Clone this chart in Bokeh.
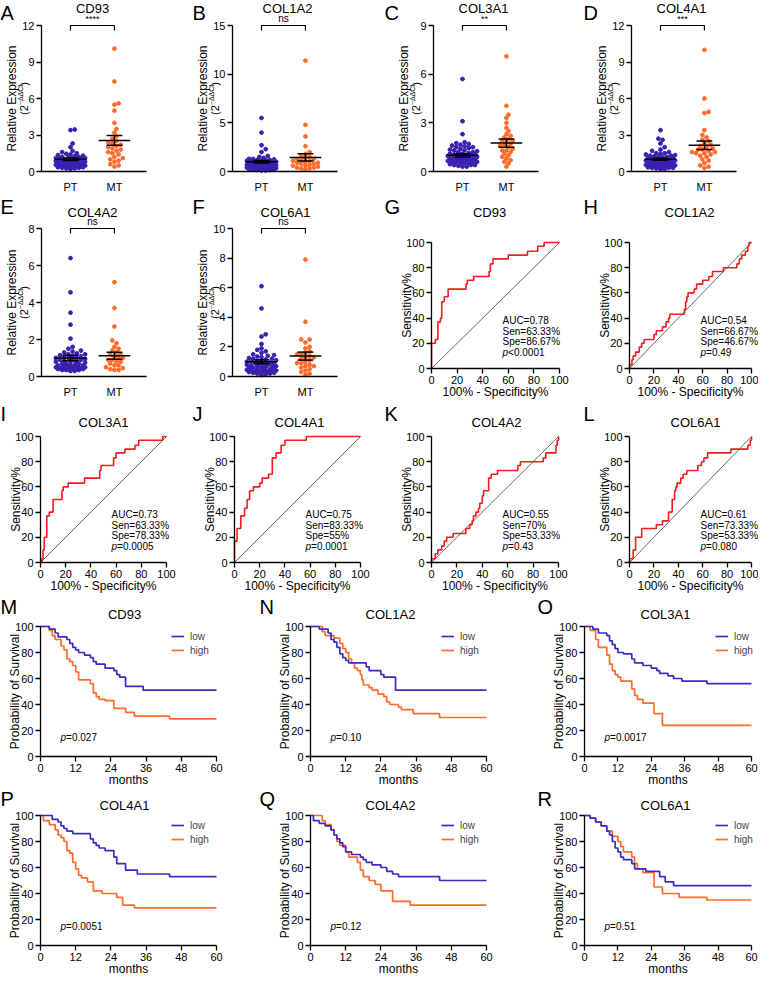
import numpy as np
from bokeh.plotting import figure
from bokeh.layouts import column, row
from bokeh.models import Label, FixedTicker, Legend, LegendItem, Range1d
from bokeh.embed import file_html
from bokeh.resources import INLINE

FONT = "Liberation Sans"
PT_COLOR = "#3b20b0"
MT_COLOR = "#ff6c2c"
LOW_COLOR = "#3a2cc2"
HIGH_COLOR = "#ff6c2c"
ROC_COLOR = "#f41c1c"

# ---------------- expression (PT vs MT) ----------------
groups = ["PT", "MT"]
expr_genes = ["CD93", "COL1A2", "COL3A1", "COL4A1", "COL4A2", "COL6A1"]
expr_letters = ["A", "B", "C", "D", "E", "F"]
expr_ymax = [12, 15, 9, 12, 8, 10]
expr_ystep = [3, 5, 3, 3, 2, 2]
expr_sig = ["****", "ns", "**", "***", "ns", "ns"]

cd93_pt = [3.45, 3.4, 2.3, 2.0, 1.7, 1.6, 1.5, 1.45, 1.4, 1.35, 1.3, 1.25, 1.2, 1.2, 1.15, 1.1, 1.1, 1.05, 1.05, 1.0,
           1.0, 1.0, 0.95, 0.95, 0.9, 0.9, 0.9, 0.85, 0.85, 0.8, 0.8, 0.8, 0.75, 0.75, 0.7, 0.7, 0.7, 0.65, 0.65, 0.6,
           0.6, 0.6, 0.55, 0.55, 0.5, 0.5, 0.5, 0.45, 0.45, 0.4, 0.4, 0.35, 0.35, 0.3, 0.3, 0.25, 0.25, 0.2, 1.1, 0.95]
cd93_mt = [10.1, 7.4, 5.6, 5.5, 5.0, 4.0, 3.5, 3.2, 2.9, 2.7, 2.5, 2.4, 2.3, 2.2, 2.1, 2.0, 1.9, 1.8, 1.7, 1.6,
           1.5, 1.4, 1.2, 1.0, 0.9, 0.8, 0.6, 0.5, 0.4, 1.1]
col1a2_pt = [5.5, 4.0, 2.7, 2.3, 2.0, 1.6, 1.5, 1.4, 1.3, 1.2, 1.2, 1.15, 1.1, 1.1, 1.0, 1.0, 1.0, 0.95, 0.9, 0.9,
             0.85, 0.8, 0.8, 0.75, 0.7, 0.7, 0.65, 0.6, 0.6, 0.55, 0.5, 0.5, 0.45, 0.4, 0.4, 0.35, 0.3, 0.3, 0.25, 0.2,
             0.2, 0.15, 0.1, 0.1, 1.05, 0.95, 0.85, 0.75, 0.65, 0.55, 0.45, 0.35, 0.25, 0.15, 1.25, 1.3, 0.6, 0.5, 0.4, 0.3]
col1a2_mt = [11.4, 4.8, 3.6, 2.6, 2.0, 1.8, 1.6, 1.5, 1.4, 1.3, 1.2, 1.1, 1.0, 0.9, 0.8, 0.7, 0.6, 0.5, 0.4, 0.3,
             0.2, 1.1, 0.9, 0.6, 0.3, 1.3, 0.8, 0.4]
col3a1_pt = [5.7, 3.1, 2.3, 1.8, 1.75, 1.7, 1.65, 1.6, 1.55, 1.5, 1.45, 1.4, 1.35, 1.3, 1.25, 1.2, 1.15, 1.1, 1.05, 1.0,
             1.0, 0.95, 0.9, 0.9, 0.85, 0.8, 0.8, 0.75, 0.7, 0.7, 0.65, 0.6, 0.6, 0.55, 0.5, 0.5, 0.45, 0.4, 0.4, 0.35,
             0.3, 0.3, 1.1, 1.0, 0.9, 0.8, 0.7, 0.6, 0.5, 0.4, 1.2, 1.3, 1.5, 0.65, 0.75, 0.85, 0.95, 1.05]
col3a1_mt = [7.1, 4.05, 3.5, 3.3, 3.0, 2.7, 2.5, 2.3, 2.2, 2.0, 1.9, 1.8, 1.7, 1.6, 1.5, 1.4, 1.3, 1.2, 1.1, 1.0,
             0.9, 0.8, 0.7, 0.6, 0.5, 0.3, 1.9, 1.6, 1.3, 2.1]
col4a1_pt = [3.4, 2.7, 2.6, 2.3, 2.0, 1.8, 1.7, 1.6, 1.5, 1.45, 1.4, 1.35, 1.3, 1.25, 1.2, 1.15, 1.1, 1.05, 1.0, 1.0,
             0.95, 0.9, 0.9, 0.85, 0.8, 0.8, 0.75, 0.7, 0.7, 0.65, 0.6, 0.6, 0.55, 0.5, 0.5, 0.45, 0.4, 0.4, 0.35, 0.3,
             0.3, 0.25, 0.2, 0.2, 1.1, 0.9, 0.7, 0.5, 0.3, 1.3, 1.5, 0.6, 0.4, 0.8, 1.0, 1.2]
col4a1_mt = [10.0, 6.0, 4.9, 4.8, 3.4, 3.0, 2.8, 2.6, 2.5, 2.3, 2.2, 2.0, 1.9, 1.8, 1.7, 1.6, 1.5, 1.4, 1.3, 1.2,
             1.0, 0.9, 0.7, 0.5, 0.4, 0.3, 1.8, 1.6, 2.1, 1.5]
col4a2_pt = [6.4, 4.55, 3.45, 2.8, 2.05, 1.6, 1.5, 1.4, 1.35, 1.3, 1.25, 1.2, 1.15, 1.1, 1.05, 1.0, 1.0, 0.95, 0.9, 0.9,
             0.85, 0.8, 0.8, 0.75, 0.7, 0.7, 0.65, 0.6, 0.6, 0.55, 0.5, 0.5, 0.5, 0.45, 0.45, 0.4, 0.4, 0.4, 0.35, 0.35,
             0.3, 0.3, 0.5, 0.6, 0.45, 0.4, 0.55, 0.35, 1.1, 0.9, 0.7, 0.5, 0.4, 0.45, 0.5, 1.2, 1.0, 0.8, 0.6, 0.4]
col4a2_mt = [5.1, 3.7, 2.7, 1.95, 1.8, 1.6, 1.5, 1.3, 1.2, 1.1, 1.0, 0.9, 0.8, 0.7, 0.6, 0.5, 0.4, 0.35, 1.4, 1.0,
             0.9, 0.6, 0.45, 0.35, 1.2, 0.8]
col6a1_pt = [6.1, 4.6, 2.85, 2.7, 2.2, 1.9, 1.8, 1.7, 1.6, 1.5, 1.45, 1.4, 1.35, 1.3, 1.25, 1.2, 1.15, 1.1, 1.05, 1.0,
             1.0, 0.95, 0.9, 0.9, 0.85, 0.8, 0.8, 0.75, 0.7, 0.7, 0.65, 0.6, 0.6, 0.55, 0.5, 0.5, 0.45, 0.4, 0.4, 0.35,
             0.3, 0.3, 0.25, 0.2, 0.2, 0.15, 0.1, 0.3, 0.4, 0.5, 0.6, 0.7, 0.8, 0.9, 1.0, 0.35, 0.25, 0.45, 1.2, 0.3]
col6a1_mt = [7.9, 3.7, 2.5, 2.5, 2.3, 2.0, 1.9, 1.7, 1.6, 1.5, 1.4, 1.3, 1.2, 1.1, 1.0, 0.9, 0.8, 0.7, 0.6, 0.5,
             0.4, 0.3, 0.2, 0.1, 1.5, 1.3, 0.9, 0.7]
expr_pt = [cd93_pt, col1a2_pt, col3a1_pt, col4a1_pt, col4a2_pt, col6a1_pt]
expr_mt = [cd93_mt, col1a2_mt, col3a1_mt, col4a1_mt, col4a2_mt, col6a1_mt]
pt_mean = [1.0, 1.0, 1.0, 1.0, 1.0, 1.0]
pt_sem = [0.1, 0.13, 0.1, 0.08, 0.15, 0.13]
mt_mean = [2.55, 1.45, 1.75, 2.15, 1.12, 1.38]
mt_sem = [0.4, 0.38, 0.25, 0.35, 0.19, 0.27]

# ---------------- ROC ----------------
roc_genes = ["CD93", "COL1A2", "COL3A1", "COL4A1", "COL4A2", "COL6A1"]
roc_letters = ["G", "H", "I", "J", "K", "L"]
roc_auc = ["0.78", "0.54", "0.73", "0.75", "0.55", "0.61"]
roc_sen = ["63.33%", "66.67%", "63.33%", "83.33%", "70%", "73.33%"]
roc_spe = ["86.67%", "46.67%", "78.33%", "55%", "53.33%", "53.33%"]
roc_p = ["<0.0001", "=0.49", "=0.0005", "=0.0001", "=0.43", "=0.080"]
roc_fpr = [
    [0, 0, 3, 5, 7, 8, 10, 13, 27, 28, 33, 45, 46, 48, 60, 75, 83, 88, 100],
    [0, 0, 2, 3, 5, 8, 10, 12, 20, 22, 27, 30, 32, 33, 45, 46, 47, 48, 53, 55, 60, 65, 68, 77, 88, 90, 92, 95, 97, 98, 100],
    [0, 1, 2, 3, 5, 7, 10, 17, 18, 22, 35, 47, 48, 58, 60, 67, 75, 78, 97, 100],
    [0, 0, 2, 5, 8, 10, 12, 15, 20, 22, 27, 30, 33, 37, 40, 57, 100],
    [0, 0, 3, 5, 8, 10, 12, 17, 27, 30, 32, 33, 35, 37, 38, 40, 41, 45, 47, 52, 68, 70, 88, 90, 98, 99, 100],
    [0, 0, 3, 5, 10, 22, 27, 32, 35, 37, 38, 39, 42, 44, 47, 56, 59, 61, 64, 83, 97, 99, 100],
]
roc_tpr = [
    [0, 20, 23, 37, 40, 53, 57, 63, 67, 70, 73, 77, 83, 87, 90, 93, 97, 100, 100],
    [0, 3, 7, 10, 13, 17, 20, 23, 27, 30, 33, 37, 40, 43, 47, 53, 57, 60, 63, 67, 70, 73, 77, 80, 83, 87, 90, 93, 97, 100, 100],
    [0, 3, 10, 20, 37, 40, 50, 57, 60, 63, 67, 73, 77, 83, 87, 90, 93, 97, 100, 100],
    [0, 17, 27, 37, 43, 50, 57, 60, 63, 67, 70, 83, 87, 93, 97, 100, 100],
    [0, 3, 7, 10, 13, 17, 20, 23, 27, 30, 33, 37, 40, 43, 47, 53, 57, 67, 70, 73, 77, 80, 83, 87, 93, 97, 100],
    [0, 3, 10, 20, 27, 30, 33, 40, 50, 57, 60, 63, 67, 70, 73, 77, 80, 83, 87, 90, 93, 97, 100],
]

# ---------------- Kaplan-Meier ----------------
km_genes = ["CD93", "COL1A2", "COL3A1", "COL4A1", "COL4A2", "COL6A1"]
km_letters = ["M", "N", "O", "P", "Q", "R"]
km_p = ["0.027", "0.10", "0.0017", "0.0051", "0.12", "0.51"]
km_low_t = [
    [0, 3, 5, 6, 9, 10, 11, 12, 13, 15, 17, 18, 19, 22, 25, 26, 27, 29, 35, 60],
    [0, 3, 6, 7, 8, 9, 10, 11, 12, 13, 19, 20, 24, 25, 29, 60],
    [0, 3, 5, 8, 9, 10, 11, 12, 14, 17, 18, 21, 24, 26, 27, 30, 32, 35, 44, 60],
    [0, 4, 6, 7, 8, 9, 11, 17, 18, 19, 20, 22, 25, 26, 29, 33, 44, 60],
    [0, 1, 3, 5, 7, 8, 9, 10, 11, 12, 14, 17, 18, 19, 21, 24, 26, 28, 30, 44, 60],
    [0, 2, 4, 6, 8, 9, 10, 11, 12, 13, 14, 17, 18, 22, 27, 29, 32, 60],
]
km_low_s = [
    [100, 98, 95, 92, 90, 87, 84, 82, 80, 78, 76, 73, 71, 68, 66, 63, 61, 54, 51, 51],
    [100, 98, 95, 90, 88, 84, 79, 76, 74, 72, 69, 66, 63, 61, 51, 51],
    [100, 98, 95, 93, 89, 86, 83, 80, 79, 75, 72, 70, 68, 66, 64, 62, 60, 58, 56, 56],
    [100, 97, 95, 92, 90, 88, 86, 82, 79, 77, 75, 73, 68, 63, 58, 55, 53, 53],
    [100, 96, 94, 92, 89, 85, 82, 79, 76, 72, 70, 68, 66, 64, 62, 60, 57, 55, 53, 50, 50],
    [100, 98, 95, 92, 88, 85, 80, 75, 72, 68, 66, 63, 59, 57, 53, 49, 46, 46],
]
km_high_t = [
    [0, 3, 4, 5, 7, 8, 9, 10, 11, 12, 13, 17, 18, 19, 20, 22, 25, 29, 32, 44, 60],
    [0, 4, 5, 8, 10, 11, 12, 13, 14, 15, 16, 17, 17.5, 18, 20, 21, 23, 25, 26, 27, 30, 31, 35, 44, 60],
    [0, 2, 4, 5, 8, 9, 10, 11, 12, 13, 17, 18, 19, 21, 25, 28, 60],
    [0, 1, 3, 5, 6, 7, 8, 9, 10, 11, 12, 13, 14, 16, 18, 21, 26, 28, 32, 60],
    [0, 4, 5, 7, 8, 9, 10, 12, 13, 16, 17, 18, 20, 22, 24, 28, 34, 60],
    [0, 2, 4, 6, 8, 10, 12, 13, 14, 17, 18, 19, 21, 25, 28, 34, 44, 60],
]
km_high_s = [
    [100, 97, 93, 90, 85, 82, 75, 73, 70, 65, 59, 56, 49, 46, 44, 43, 37, 34, 31, 29, 29],
    [100, 96, 93, 91, 87, 83, 80, 75, 72, 68, 66, 63, 59, 55, 53, 51, 48, 46, 42, 40, 38, 36, 33, 30, 30],
    [100, 97, 90, 84, 78, 71, 66, 63, 61, 58, 52, 47, 44, 41, 33, 24, 24],
    [100, 96, 93, 89, 85, 83, 80, 73, 71, 64, 59, 54, 52, 49, 42, 40, 37, 31, 29, 29],
    [100, 96, 93, 89, 85, 80, 77, 72, 68, 64, 58, 53, 50, 47, 42, 34, 31, 31],
    [100, 98, 95, 92, 88, 84, 80, 76, 72, 68, 63, 59, 56, 45, 40, 37, 35, 35],
]

# ---------------- layout geometry (image pixel coords) ----------------
# each: fig x0, fig x1, plot-area x0, plot-area x1
ROW1_X = [(8, 198, 49, 154), (198, 389, 240, 345), (389, 588, 441, 546), (588, 766, 639, 744)]
ROW2_X = [(8, 198, 49, 154), (198, 389, 240, 345), (389, 588, 439, 567), (588, 766, 637, 759)]
ROW3_X = [(8, 198, 48, 174), (198, 389, 242, 368), (389, 588, 439, 566), (588, 766, 637, 759)]
ROWKM_X = [(8, 265, 48, 224), (265, 543, 318, 494), (543, 766, 592, 759)]


class G:
    def __init__(self, fx0, fx1, fy0, fy1, px0, px1, py0, py1):
        self.fx0, self.fx1, self.fy0, self.fy1 = fx0, fx1, fy0, fy1
        self.px0, self.px1, self.py0, self.py1 = px0, px1, py0, py1


def base_fig(g, xa, xb, ya, yb):
    """Whole canvas is the frame; axes sit at fixed data locations so texts are never clipped."""
    ppx = (g.px1 - g.px0) / (xb - xa)
    ppy = (g.py1 - g.py0) / (yb - ya)
    xs = xa - (g.px0 - g.fx0) / ppx
    xe = xb + (g.fx1 - g.px1) / ppx
    ys = ya - (g.fy1 - g.py1) / ppy
    ye = yb + (g.py0 - g.fy0) / ppy
    p = figure(width=g.fx1 - g.fx0, height=g.fy1 - g.fy0,
               x_range=Range1d(xs, xe), y_range=Range1d(ys, ye),
               output_backend="svg", toolbar_location=None, title_location=None,
               min_border_left=0, min_border_right=0, min_border_top=0, min_border_bottom=0,
               background_fill_color="white", border_fill_color="white")
    p.outline_line_color = None
    p.xgrid.visible = False
    p.ygrid.visible = False
    p.xaxis.fixed_location = ya
    p.xaxis.bounds = (xa, xb)
    p.yaxis.fixed_location = xa
    p.yaxis.bounds = (ya, yb)
    for ax in (p.xaxis[0], p.yaxis[0]):
        ax.axis_line_color = "black"
        ax.axis_line_width = 1.3
        ax.major_tick_line_color = "black"
        ax.major_tick_line_width = 1.3
        ax.major_tick_out = 5
        ax.major_tick_in = 0
        ax.minor_tick_line_color = None
        ax.major_label_text_font = FONT
        ax.major_label_text_font_size = "11px"
        ax.major_label_text_color = "black"
        ax.major_label_standoff = 2
    return p, ppx, ppy


def txt(p, g, X, Y, text, size, align="center", baseline="middle", angle=0.0, style="normal"):
    p.add_layout(Label(x=X - g.fx0, y=g.fy1 - Y, x_units="screen", y_units="screen",
                       text=text, text_font=FONT, text_font_size=f"{size}px",
                       text_align=align, text_baseline=baseline, angle=angle,
                       text_font_style=style, text_color="black"))


def swarm(vals, xc, ppx, ppy, d=3.8, maxw=16.0):
    vals = np.asarray(vals, float)
    order = np.argsort(vals)
    step = d * 0.55
    cands = [0.0]
    k = 1
    while k * step <= maxw:
        cands += [k * step, -k * step]
        k += 1
    px, py = [], []
    out = np.zeros(len(vals))
    for i in order:
        y = vals[i] * ppy
        chosen = None
        best_c, best_d = 0.0, -1.0
        for c in cands:
            if px:
                dist = float(np.min(np.hypot(np.array(px) - c, np.array(py) - y)))
            else:
                dist = 1e9
            if dist >= d:
                chosen = c
                break
            if dist > best_d:
                best_d, best_c = dist, c
        if chosen is None:
            chosen = best_c
        px.append(chosen)
        py.append(y)
        out[i] = xc + chosen / ppx
    return out


LETTER_SIZE = 20


def expr_panel(i, gx, fy0, fy1, py0, py1, title_x, title_y, let_x, let_y):
    g = G(gx[0], gx[1], fy0, fy1, gx[2], gx[3], py0, py1)
    ymax = expr_ymax[i]
    p, ppx, ppy = base_fig(g, 0.34, 2.73, 0, ymax)
    p.xaxis.ticker = FixedTicker(ticks=[1, 2])
    p.xaxis.major_label_overrides = {1: groups[0], 2: groups[1]}
    p.xaxis.major_tick_line_color = None
    p.xaxis.major_label_standoff = 4
    p.yaxis.ticker = FixedTicker(ticks=list(range(0, ymax + 1, expr_ystep[i])))
    for k, (vals, col, m, s) in enumerate([(expr_pt[i], PT_COLOR, pt_mean[i], pt_sem[i]),
                                           (expr_mt[i], MT_COLOR, mt_mean[i], mt_sem[i])]):
        xc = k + 1
        xs = swarm(vals, xc, ppx, ppy)
        p.scatter(xs, vals, size=3.8, color=col, line_color=col)
        p.segment(x0=[xc - 0.36, xc - 0.18, xc - 0.18, xc],
                  y0=[m, m + s, m - s, m - s],
                  x1=[xc + 0.36, xc + 0.18, xc + 0.18, xc],
                  y1=[m, m + s, m - s, m + s], color="black", line_width=1.5)
    d = 5.0 / ppy
    p.line([1, 1, 2, 2], [ymax - d, ymax, ymax, ymax - d], color="black", line_width=1.2)
    p.add_layout(Label(x=1.5, y=ymax, x_units="data", y_units="data", y_offset=2,
                       text=expr_sig[i], text_font=FONT,
                       text_font_size="9px" if expr_sig[i] != "ns" else "10px",
                       text_align="center", text_baseline="bottom", text_color="black"))
    fh = py1 - py0
    txt(p, g, let_x, let_y, expr_letters[i], LETTER_SIZE, align="left")
    txt(p, g, title_x, title_y, expr_genes[i], 13)
    yc = py0 + fh / 2
    txt(p, g, g.px0 - 30, yc, "Relative Expression", 12, angle=np.pi / 2)
    # second line: (2^-ΔΔCt)
    w1, w2 = 9.8, 19.5
    ys = yc + 16.5
    txt(p, g, g.px0 - 18, ys, "(2", 11, align="left", angle=np.pi / 2)
    txt(p, g, g.px0 - 21, ys - w1, "\u2212\u0394\u0394Ct", 7, align="left", angle=np.pi / 2)
    txt(p, g, g.px0 - 18, ys - w1 - w2, ")", 11, align="left", angle=np.pi / 2)
    return p


def roc_panel(i, gx, fy0, fy1, py0, py1, title_x, title_y, let_x, let_y):
    g = G(gx[0], gx[1], fy0, fy1, gx[2], gx[3], py0, py1)
    p, ppx, ppy = base_fig(g, 0, 100, 0, 100)
    p.xaxis.ticker = FixedTicker(ticks=[0, 20, 40, 60, 80, 100])
    p.yaxis.ticker = FixedTicker(ticks=[0, 20, 40, 60, 80, 100])
    p.line([0, 100], [0, 100], color="black", line_width=0.6)
    p.step(roc_fpr[i], roc_tpr[i], mode="after", color=ROC_COLOR, line_width=1.6)
    txt(p, g, let_x, let_y, roc_letters[i], LETTER_SIZE, align="left")
    txt(p, g, title_x, title_y, roc_genes[i], 13)
    fh = py1 - py0
    txt(p, g, g.px0 - 25, py0 + fh / 2, "Sensitivity%", 12, angle=np.pi / 2)
    txt(p, g, (g.px0 + g.px1) / 2, py1 + 23.5, "100% - Specificity%", 12)
    tx = g.px0 + 71
    txt(p, g, tx, py1 - 48, "AUC=" + roc_auc[i], 10, align="left")
    txt(p, g, tx, py1 - 37.5, "Sen=" + roc_sen[i], 10, align="left")
    txt(p, g, tx, py1 - 27, "Spe=" + roc_spe[i], 10, align="left")
    txt(p, g, tx, py1 - 16.5, "p", 10, align="left", style="italic")
    txt(p, g, tx + 5.6, py1 - 16.5, roc_p[i], 10, align="left")
    return p


def km_panel(i, gx, fy0, fy1, py0, py1, title_x, title_y, let_x, let_y, months_dy):
    g = G(gx[0], gx[1], fy0, fy1, gx[2], gx[3], py0, py1)
    p, ppx, ppy = base_fig(g, 0, 60, 0, 100)
    p.xaxis.ticker = FixedTicker(ticks=[0, 12, 24, 36, 48, 60])
    p.yaxis.ticker = FixedTicker(ticks=[0, 20, 40, 60, 80, 100])
    r_high = p.step(km_high_t[i], km_high_s[i], mode="after", color=HIGH_COLOR, line_width=1.7)
    r_low = p.step(km_low_t[i], km_low_s[i], mode="after", color=LOW_COLOR, line_width=1.7)
    leg = Legend(items=[LegendItem(label="low", renderers=[r_low]),
                        LegendItem(label="high", renderers=[r_high])],
                 location=(g.px0 + 131 - g.fx0, g.fy1 - (py0 + 30)), orientation="vertical",
                 label_text_font=FONT, label_text_font_size="10px",
                 label_height=12, glyph_height=12, glyph_width=13, label_standoff=6,
                 spacing=2, padding=0, margin=0,
                 border_line_color=None, background_fill_alpha=0.0)
    p.add_layout(leg)
    fh = py1 - py0
    txt(p, g, let_x, let_y, km_letters[i], LETTER_SIZE, align="left")
    txt(p, g, title_x, title_y, km_genes[i], 13)
    txt(p, g, g.px0 - 26, py0 + fh / 2, "Probability of Survival", 12, angle=np.pi / 2)
    txt(p, g, (g.px0 + g.px1) / 2, py1 + months_dy, "months", 12)
    txt(p, g, g.px0 + 20, py1 - 19, "p", 10, align="left", style="italic")
    txt(p, g, g.px0 + 25.6, py1 - 19, "=" + km_p[i], 10, align="left")
    return p


# Row 1: A-D   (figure y 8-201, plot 33-179)
t1x = [100, 295, 491, 689]
l1x = [8, 200, 392, 591]
r1 = [expr_panel(i, ROW1_X[i], 8, 201, 33, 179, t1x[i], 16, l1x[i], 20) for i in range(4)]

# Row 2: E, F (plot 236-384), G, H (plot 250-376)   (figure y 201-408)
r2 = [expr_panel(4, ROW2_X[0], 201, 408, 236, 384, 100, 220, 8, 214),
      expr_panel(5, ROW2_X[1], 201, 408, 236, 384, 293, 220, 200, 214),
      roc_panel(0, ROW2_X[2], 201, 408, 250, 376, 497, 220, 392, 214),
      roc_panel(1, ROW2_X[3], 201, 408, 250, 376, 697, 220, 591, 214)]

# Row 3: I-L   (figure y 408-601, plot 444-570)
t3x = [111, 307, 504, 703]
l3x = [8, 200, 392, 591]
r3 = [roc_panel(2 + j, ROW3_X[j], 408, 601, 444, 570, t3x[j], 430, l3x[j], 421) for j in range(4)]

# Row 4: M-O (figure y 601-793, plot 634-764) ; Row 5: P-R (figure y 793-983, plot 823-953)
tkx = [132, 398, 673]
lkx = [8, 267, 545]
r4 = [km_panel(j, ROWKM_X[j], 601, 793, 634, 764, tkx[j], 622, lkx[j], 614, 23) for j in range(3)]
r5 = [km_panel(3 + j, ROWKM_X[j], 793, 983, 823, 953, tkx[j], 813, lkx[j], 806, 23) for j in range(3)]

layout = column(row(*r1), row(*r2), row(*r3), row(*r4), row(*r5))

with open("out.html", "w") as f:
    f.write(file_html(layout, INLINE))
